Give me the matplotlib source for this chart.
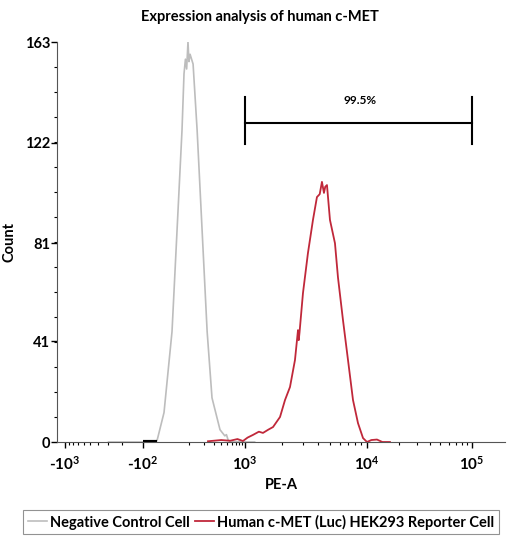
import numpy as np
import matplotlib
matplotlib.use("Agg")
import matplotlib.pyplot as plt
from matplotlib.lines import Line2D

plt.rcParams['font.family'] = ['Lato', 'DejaVu Sans']
plt.rcParams['font.weight'] = 'bold'
plt.rcParams['mathtext.fontset'] = 'custom'
plt.rcParams['mathtext.rm'] = 'Lato:bold'
plt.rcParams['mathtext.it'] = 'Lato:bold'
plt.rcParams['mathtext.bf'] = 'Lato:bold'

# negative control histogram (PE-A, count)
neg_x = [-300, -120, -60, -35.6, -8.2, 22.4, 42.4, 63.9, 73.1, 80, 86, 92.8, 98, 104,
         121.2, 146.9, 183.6, 227, 277, 381, 460, 490, 520, 560, 683, 800, 1000, 1200]
neg_y = [0, 0, 0, 0.5, 12, 45, 86, 127, 150, 156, 152, 163, 155, 158,
         154, 127, 86, 45, 18, 5, 2.5, 3, 1, 0.3, 0, 0.2, 0, 0]

# human c-MET (Luc) HEK293 reporter histogram
met_x = [235, 400, 562, 750, 925, 1050, 1164, 1300, 1405, 1550, 1699, 1939, 2130, 2340, 2571,
         2722, 2760, 2800, 2990, 3284, 3610, 3891, 4100, 4276, 4441, 4550, 4701, 4974,
         5466, 5787, 6357, 6989, 7680, 8437, 9276, 10000, 11000, 12445, 14000, 16550]
met_y = [0.3, 0.8, 0.5, 1.2, 0.4, 1.8, 2.9, 4.2, 3.7, 5.0, 6.1, 10.2, 17.1, 22.4, 33.4,
         45.6, 41.5, 44.5, 60.7, 77, 90.5, 99.8, 101, 106, 101.5, 104, 104.7, 90.5,
         81, 67, 49.7, 33.4, 17.1, 7.7, 1.6, 0, 0.8, 1.0, 0, 0]

gate_lo, gate_hi, gate_y = 1000, 100000, 130
gate_text = "99.5%"

major_vals = [-1000, -100, 1000, 10000, 100000]
major_labels = [r'-$10^{3}$', r'-$10^{2}$', r'$10^{3}$', r'$10^{4}$', r'$10^{5}$']
y_ticks = [0, 41, 81, 122, 163]

# biexponential-like display: arcsinh, stretched per decade like the cytometer software
A = np.arcsinh(np.array([-1e5, -1000, -100, 1000, 10000, 100000, 1e7]) / 100)
P = np.array([65 - (A[1] - A[0]) * 36.85, 65, 143, 245, 367, 472,
              472 + (A[6] - A[5]) * 45.6])


def fwd(x):
    return np.interp(np.arcsinh(np.asarray(x, float) / 100), A, P)


def inv(p):
    return 100 * np.sinh(np.interp(np.asarray(p, float), P, A))


fig = plt.figure(figsize=(5.08, 5.36), dpi=100)
ax = fig.add_axes([57 / 508, 94 / 536, 448 / 508, 400 / 536])
ax.set_xscale('function', functions=(fwd, inv))

ax.plot(neg_x, neg_y, color='#bdbdbd', lw=1.2)
ax.plot(met_x, met_y, color='#c0283a', lw=1.3)
ax.plot([-100, -35], [0, 0], color='black', lw=3, solid_capstyle='butt', zorder=4)

# gate
ax.plot([gate_lo, gate_hi], [gate_y, gate_y], color='black', lw=1.5)
ax.plot([gate_lo, gate_lo], [121.5, 140.5], color='black', lw=1.5)
ax.plot([gate_hi, gate_hi], [121.5, 140.5], color='black', lw=1.5)
ax.text(inv(360), 137, gate_text, ha='center', va='bottom', fontsize=8.5, fontweight='bold')

ax.set_xlim(inv(57), inv(505))
ax.set_ylim(0, 163)

minors = []
for d in [1000, 10000, 100000]:
    minors += [k * d for k in range(2, 10) if k * d < 200000]
minors += [k * 100 for k in range(1, 10)]
minors += [-k * 100 for k in range(2, 10)]
ax.set_xticks(major_vals)
ax.set_xticks(minors, minor=True)
ax.set_xticklabels(major_labels, fontsize=11)
ax.set_yticks(y_ticks)
ax.set_yticks(np.arange(0, 163.1, 163 / 16), minor=True)
ax.set_yticklabels([str(v) for v in y_ticks], fontsize=10.5)
ax.tick_params(axis='x', which='major', length=4, width=1, pad=5)
ax.tick_params(axis='x', which='minor', length=2.5, width=0.8)
ax.tick_params(axis='y', which='major', length=4, width=1, pad=1)
ax.tick_params(axis='y', which='minor', length=2.5, width=0.8)

for s in ['top', 'right']:
    ax.spines[s].set_visible(False)
for s in ['left', 'bottom']:
    ax.spines[s].set_color('#555555')

ax.set_xlabel('PE-A', fontsize=10.5, fontweight='bold', labelpad=4)
ax.set_ylabel('Count', fontsize=10.5, fontweight='bold', labelpad=6)
fig.text(260 / 508, 1 - 17 / 536, 'Expression analysis of human c-MET',
         ha='center', va='center', fontsize=10.5, fontweight='bold')

handles = [Line2D([], [], color='#bdbdbd', lw=1.2), Line2D([], [], color='#c0283a', lw=1.3)]
leg = fig.legend(handles, ['Negative Control Cell', 'Human c-MET (Luc) HEK293 Reporter Cell'],
                 loc='center', bbox_to_anchor=(261 / 508, 1 - 522 / 536), ncol=2,
                 fontsize=10.5, frameon=True, fancybox=False, handlelength=1.3,
                 handletextpad=0.2, columnspacing=0.4, borderpad=0.3)
leg.get_frame().set_edgecolor('#777777')
leg.get_frame().set_linewidth(0.8)

fig.savefig('out.png', dpi=100)
